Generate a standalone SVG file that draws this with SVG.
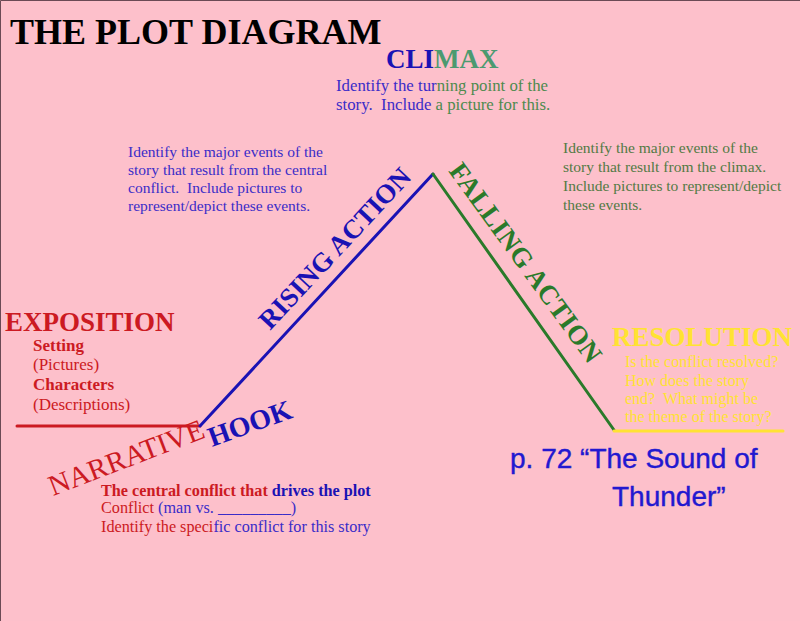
<svg xmlns="http://www.w3.org/2000/svg" width="800" height="621" viewBox="0 0 800 621">
<style>
  text { font-family: "Liberation Serif", "Times New Roman", serif; }
  .b { font-weight: bold; }
  .red { fill: #CC1A22; }
  .blue { fill: #1A12B4; }
  .pblue { fill: #3A2CC8; }
  .green { fill: #2A7A2A; }
  .teal { fill: #4C9A70; }
  .olive { fill: #527A44; }
  .yellow { fill: #FFE233; }
  .hand { font-family: "Liberation Sans", "DejaVu Sans", sans-serif; fill: #2218D0; stroke: #2218D0; stroke-width: 0.4; }
  .plot { fill: none; stroke-width: 3; stroke-linecap: round; }
</style>
<rect x="0" y="0" width="800" height="621" fill="#FDC0CB"/>
<path d="M0.5,621 V0.5 H800" fill="none" stroke="#6B4A55" stroke-width="1"/>

<g id="title">
  <text x="10" y="44" font-size="36" class="b" fill="#000">THE PLOT DIAGRAM</text>
</g>

<g id="connectors">
  <line class="plot" x1="17" y1="426" x2="200" y2="426" stroke="#CC1A22"/>
  <line class="plot" x1="200" y1="426" x2="433" y2="174" stroke="#1A12B4"/>
  <line class="plot" x1="433" y1="174" x2="614" y2="430" stroke="#2A7A2A"/>
  <line class="plot" x1="614" y1="431" x2="783" y2="431" stroke="#FFE233"/>
</g>

<g id="climax">
  <text x="386" y="68" font-size="27" class="b"><tspan class="blue">CLI</tspan><tspan class="teal">MAX</tspan></text>
  <text x="336" y="91" font-size="16.8"><tspan class="pblue">Identify the tur</tspan><tspan fill="#4E8A4E">ning point of the</tspan></text>
  <text x="336" y="110" font-size="16.8"><tspan class="pblue">story.&#160; Include </tspan><tspan fill="#4E8A4E">a picture for this.</tspan></text>
</g>

<g id="rising-action">
  <text font-size="15.5" class="pblue">
    <tspan x="128" y="157">Identify the major events of the</tspan>
    <tspan x="128" y="175">story that result from the central</tspan>
    <tspan x="128" y="193">conflict.&#160; Include pictures to</tspan>
    <tspan x="128" y="211">represent/depict these events.</tspan>
  </text>
  <text transform="translate(270,331) rotate(-47)" font-size="27" class="b blue">RISING ACTION</text>
</g>

<g id="falling-action">
  <text font-size="15.5" class="olive">
    <tspan x="563" y="153">Identify the major events of the</tspan>
    <tspan x="563" y="172">story that result from the climax.</tspan>
    <tspan x="563" y="191">Include pictures to represent/depict</tspan>
    <tspan x="563" y="210">these events.</tspan>
  </text>
  <text transform="translate(448,171) rotate(54)" font-size="27" letter-spacing="0.4" class="b green">FALLING ACTION</text>
</g>

<g id="exposition">
  <text x="5" y="331" font-size="27" class="b red">EXPOSITION</text>
  <text x="33" y="351" font-size="17" class="b red">Setting</text>
  <text x="33" y="370" font-size="17" class="red">(Pictures)</text>
  <text x="33" y="390" font-size="17" class="b red">Characters</text>
  <text x="33" y="410" font-size="17" class="red">(Descriptions)</text>
</g>

<g id="narrative-hook">
  <text transform="translate(53,496) rotate(-21)" font-size="29" class="red">NARRATIVE</text>
  <text transform="translate(212,447) rotate(-20)" font-size="28" class="b blue">HOOK</text>
  <text x="101" y="496" font-size="16.2" class="b"><tspan class="red">The central conflict that </tspan><tspan class="blue">drives the plot</tspan></text>
  <text x="101" y="513" font-size="16.2"><tspan class="red">Conflict </tspan><tspan class="pblue">(man vs. _________)</tspan></text>
  <text x="101" y="532" font-size="16.2"><tspan class="red">Identify the speci</tspan><tspan class="pblue">fic conflict for this story</tspan></text>
</g>

<g id="resolution">
  <text x="612" y="346" font-size="27" class="b yellow">RESOLUTION</text>
  <text font-size="16" class="yellow">
    <tspan x="625" y="367">Is the conflict resolved?</tspan>
    <tspan x="625" y="386">How does the story</tspan>
    <tspan x="625" y="404">end?&#160; What might be</tspan>
    <tspan x="625" y="422">the theme of the story?</tspan>
  </text>
</g>

<g id="handwritten-note">
  <text x="510" y="468" font-size="28" class="hand">p. 72 “The Sound of</text>
  <text x="612" y="506" font-size="28" class="hand">Thunder”</text>
</g>
</svg>
